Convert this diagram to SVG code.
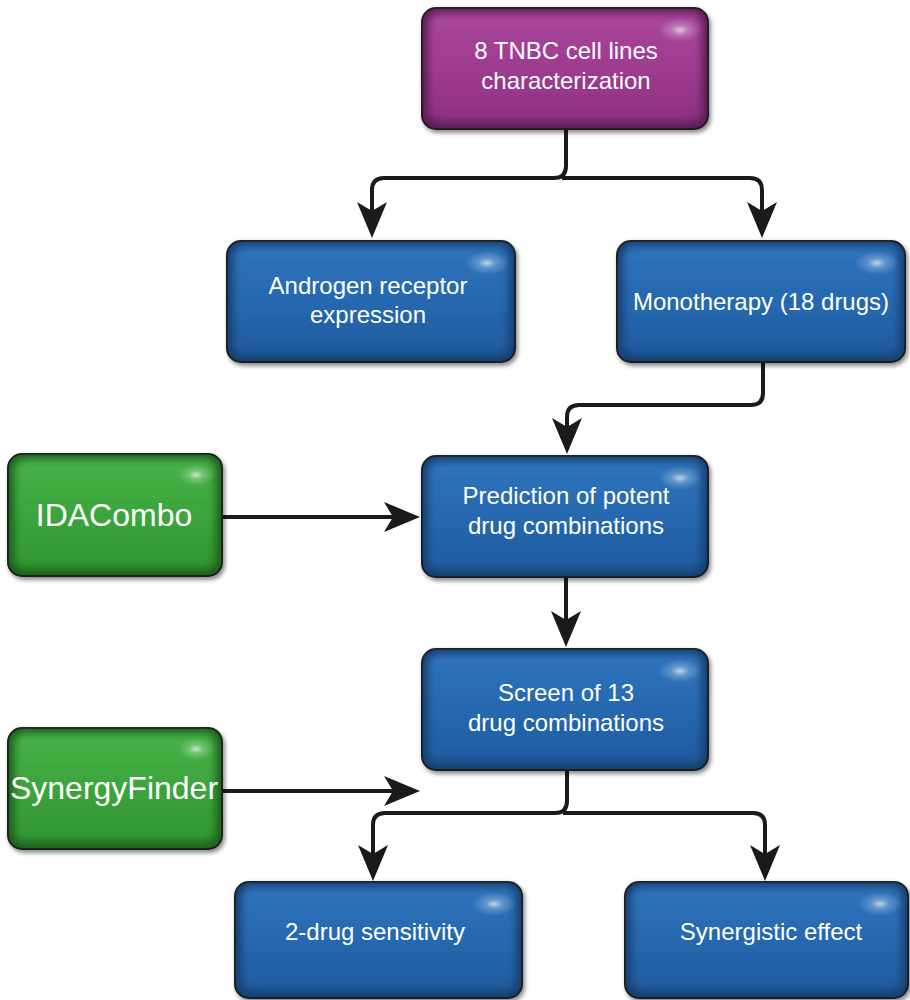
<svg xmlns="http://www.w3.org/2000/svg" width="910" height="1000" viewBox="0 0 910 1000">
<style>
  .base{stroke:#1e1e1e;stroke-width:2;filter:url(#sh)}
  .face{filter:url(#soft)}
  .hl{fill:url(#hl)}
  .blue .base{fill:#163f70}
  .blue .face{fill:url(#gB)}
  .green .base{fill:#1f5f1f}
  .green .face{fill:url(#gG)}
  .purple .base{fill:#5c1f55}
  .purple .face{fill:url(#gP)}
  text{font-family:"Liberation Sans",Arial,sans-serif;fill:#ffffff;text-anchor:middle}
  .t24{font-size:24px}
  .t32{font-size:32px}
  .conn path{fill:none;stroke:#1a1a1a;stroke-width:4;marker-end:url(#ah)}
</style>
<defs>
  <filter id="sh" x="-10%" y="-10%" width="125%" height="130%">
    <feDropShadow dx="2" dy="3" stdDeviation="2" flood-color="#000" flood-opacity="0.45"/>
  </filter>
  <filter id="soft" x="-10%" y="-10%" width="120%" height="120%">
    <feGaussianBlur stdDeviation="4"/>
  </filter>
  <linearGradient id="gB" x1="0" y1="0" x2="0" y2="1">
    <stop offset="0" stop-color="#2f74bd"/>
    <stop offset="0.6" stop-color="#2566ad"/>
    <stop offset="1" stop-color="#1f5a9c"/>
  </linearGradient>
  <linearGradient id="gG" x1="0" y1="0" x2="0" y2="1">
    <stop offset="0" stop-color="#48b248"/>
    <stop offset="0.6" stop-color="#3aa23a"/>
    <stop offset="1" stop-color="#329432"/>
  </linearGradient>
  <linearGradient id="gP" x1="0" y1="0" x2="0" y2="1">
    <stop offset="0" stop-color="#a9479b"/>
    <stop offset="0.6" stop-color="#9c3a8e"/>
    <stop offset="1" stop-color="#8c3180"/>
  </linearGradient>
  <radialGradient id="hl" cx="0.5" cy="0.5" r="0.5">
    <stop offset="0" stop-color="#ffffff" stop-opacity="0.7"/>
    <stop offset="0.4" stop-color="#ffffff" stop-opacity="0.25"/>
    <stop offset="1" stop-color="#ffffff" stop-opacity="0"/>
  </radialGradient>
  <marker id="ah" markerUnits="userSpaceOnUse" markerWidth="40" markerHeight="34" refX="26" refY="17" orient="auto" overflow="visible">
    <path d="M0,2 L36,17 L0,32 L9,17 Z" fill="#1a1a1a"/>
  </marker>
</defs>

<g id="connectors" class="conn">
  <path d="M566,130 V166 Q566,178 554,178 H384 Q372,178 372,190 V228"/>
  <path d="M562,178 H750 Q762,178 762,190 V228"/>
  <path d="M763,363 V393 Q763,405 751,405 H579 Q567,405 567,417 V444"/>
  <path d="M223,517 H410"/>
  <path d="M566,578 V637"/>
  <path d="M223,791 H410"/>
  <path d="M567,771 V801 Q567,813 555,813 H385 Q373,813 373,825 V871"/>
  <path d="M563,813 H753 Q765,813 765,825 V871"/>
</g>

<g id="n-top" class="purple">
  <rect class="base" x="422" y="8" width="286" height="121" rx="14"/>
  <rect class="face" x="428" y="13" width="274" height="109" rx="10"/>
  <ellipse class="hl" cx="680" cy="30" rx="22" ry="12"/>
  <text class="t24" x="566" y="59">8 TNBC cell lines</text>
  <text class="t24" x="566" y="89">characterization</text>
</g>

<g id="n-androgen" class="blue">
  <rect class="base" x="227" y="241" width="288" height="121" rx="14"/>
  <rect class="face" x="233" y="246" width="276" height="109" rx="10"/>
  <ellipse class="hl" cx="487" cy="263" rx="22" ry="12"/>
  <text class="t24" x="368" y="294">Androgen receptor</text>
  <text class="t24" x="368" y="323">expression</text>
</g>

<g id="n-mono" class="blue">
  <rect class="base" x="617" y="241" width="288" height="121" rx="14"/>
  <rect class="face" x="623" y="246" width="276" height="109" rx="10"/>
  <ellipse class="hl" cx="877" cy="263" rx="22" ry="12"/>
  <text class="t24" x="761" y="310">Monotherapy (18 drugs)</text>
</g>

<g id="n-idacombo" class="green">
  <rect class="base" x="8" y="454" width="214" height="122" rx="14"/>
  <rect class="face" x="14" y="459" width="202" height="110" rx="10"/>
  <ellipse class="hl" cx="196" cy="475" rx="18" ry="11"/>
  <text class="t32" x="114" y="526">IDACombo</text>
</g>

<g id="n-prediction" class="blue">
  <rect class="base" x="422" y="456" width="286" height="121" rx="14"/>
  <rect class="face" x="428" y="461" width="274" height="109" rx="10"/>
  <ellipse class="hl" cx="680" cy="478" rx="22" ry="12"/>
  <text class="t24" x="566" y="504">Prediction of potent</text>
  <text class="t24" x="566" y="534">drug combinations</text>
</g>

<g id="n-screen" class="blue">
  <rect class="base" x="422" y="649" width="286" height="121" rx="14"/>
  <rect class="face" x="428" y="654" width="274" height="109" rx="10"/>
  <ellipse class="hl" cx="680" cy="671" rx="22" ry="12"/>
  <text class="t24" x="566" y="701">Screen of 13</text>
  <text class="t24" x="566" y="731">drug combinations</text>
</g>

<g id="n-synergyfinder" class="green">
  <rect class="base" x="8" y="728" width="214" height="121" rx="14"/>
  <rect class="face" x="14" y="733" width="202" height="109" rx="10"/>
  <ellipse class="hl" cx="196" cy="749" rx="18" ry="11"/>
  <text class="t32" x="114" y="799">SynergyFinder</text>
</g>

<g id="n-2drug" class="blue">
  <rect class="base" x="235" y="882" width="287" height="116" rx="14"/>
  <rect class="face" x="241" y="887" width="275" height="104" rx="10"/>
  <ellipse class="hl" cx="494" cy="904" rx="22" ry="12"/>
  <text class="t24" x="375" y="940">2-drug sensitivity</text>
</g>

<g id="n-synergistic" class="blue">
  <rect class="base" x="625" y="882" width="283" height="116" rx="14"/>
  <rect class="face" x="631" y="887" width="271" height="104" rx="10"/>
  <ellipse class="hl" cx="880" cy="904" rx="22" ry="12"/>
  <text class="t24" x="771" y="940">Synergistic effect</text>
</g>
</svg>
